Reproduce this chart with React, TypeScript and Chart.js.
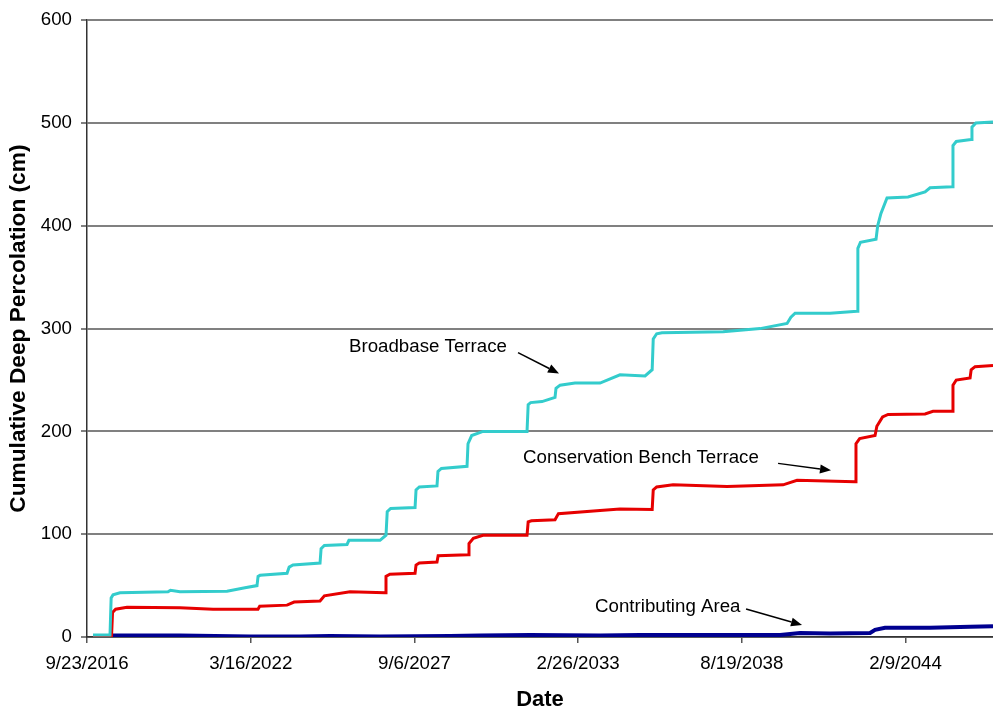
import React, { useEffect, useRef } from "react";
import { Chart, registerables } from "chart.js";

Chart.register(...registerables);

// ---- Axis definitions ----
const START_DATE_UTC = Date.UTC(2016, 8, 23); // day 0 = 9/23/2016
const X_MAX_DAYS = 11069;
const X_TICK_DAYS = [0, 2000, 4000, 6000, 8000, 10000];
const Y_TICKS = [0, 100, 200, 300, 400, 500, 600];

// ---- Series data (days since 9/23/2016, cumulative cm) ----
const BROADBASE_DAYS = [
  73, 281, 295, 318, 403, 990, 1020, 1136, 1711, 1930, 2077, 2090, 2114, 2444, 2470,
  2517, 2847, 2860, 2900, 3177, 3200, 3580, 3653, 3668, 3710, 4008, 4020, 4060, 4276,
  4288, 4330, 4643, 4655, 4700, 4838, 5376, 5390, 5420, 5559, 5718, 5730, 5780, 5962,
  6268, 6512, 6818, 6905, 6918, 6960, 7025, 7771, 8223, 8553, 8600, 8651, 9078, 9408,
  9418, 9450, 9640, 9660, 9700, 9774, 10031, 10239, 10300, 10569, 10580, 10620, 10801,
  10812, 10860, 11069,
];
const BROADBASE_CM = [
  2, 2, 38, 41, 43, 44, 45.5, 44, 44.5, 48, 50, 59, 60, 62, 68,
  70, 72, 86, 89, 90, 94, 94, 99, 122, 125, 126, 143, 146, 147,
  161, 164, 166, 188, 196, 200, 200, 226, 228, 229, 233, 242, 245, 247,
  247, 255, 254, 260, 290, 295, 296, 297, 300, 305, 311, 315, 315, 317,
  378, 384, 387, 400, 412, 427, 428, 433, 437, 438, 478, 482, 484,
  496, 500, 501,
];

const BENCH_DAYS = [
  73, 300, 312, 350, 489, 1136, 1540, 2089, 2110, 2444, 2530, 2847, 2900, 3213, 3641,
  3653, 3700, 4008, 4020, 4060, 4276, 4290, 4655, 4667, 4720, 4838, 5376, 5390, 5430,
  5718, 5760, 6268, 6512, 6905, 6918, 6960, 7160, 7820, 8504, 8675, 9383, 9395, 9440,
  9628, 9650, 9720, 9787, 10239, 10336, 10569, 10580, 10620, 10789, 10802, 10850, 11069,
];
const BENCH_CM = [
  1, 1, 24, 27, 29, 28.5, 27, 27, 30, 31, 34, 35, 40, 44, 43,
  59, 61, 62, 70, 72, 73, 79, 80, 91, 96, 99, 99, 112, 113,
  114, 120, 123, 124.5, 124, 143, 146, 148, 146.5, 148, 152.5, 151, 188, 193,
  196, 205, 214, 216.5, 217, 219.5, 219.5, 245, 250, 252, 260, 263, 264,
];

const CONTRIB_DAYS = [
  281, 1136, 1992, 2602, 2969, 3580, 4435, 4802, 5413, 6268, 6757, 7490, 8468, 8712,
  9078, 9567, 9628, 9750, 10300, 10789, 11069,
];
const CONTRIB_CM = [
  1.5, 1.5, 0.5, 0.5, 1, 0.5, 1, 1.5, 2, 1.5, 2, 2, 2, 4,
  3.5, 4, 7, 9, 9, 10, 10.5,
];

// ---- Annotations (data coordinates) ----
const NOTE_TEXTS = ["Broadbase Terrace", "Conservation Bench Terrace", "Contributing Area"];
const NOTE_DAYS = [3201, 5327, 6207];
const NOTE_CM = [282.5, 173.8, 29.1];
const ARROW_FROM_DAYS = [5266, 8443, 8052];
const ARROW_FROM_CM = [276.7, 168.9, 27.2];
const ARROW_TO_DAYS = [5767, 9090, 8736];
const ARROW_TO_CM = [256.3, 162.1, 11.7];

const FONT_FAMILY = '"Liberation Sans", Arial, Helvetica, sans-serif';

function formatDay(v: number): string {
  const d = new Date(START_DATE_UTC + v * 86400000);
  return `${d.getUTCMonth() + 1}/${d.getUTCDate()}/${d.getUTCFullYear()}`;
}

function toPoints(xs: number[], ys: number[]) {
  return xs.map((x, i) => ({ x, y: ys[i] }));
}

const annotationPlugin = {
  id: "textArrows",
  afterDatasetsDraw(chart: any) {
    const { ctx, scales } = chart;
    const xs = scales.x;
    const ys = scales.y;
    ctx.save();
    ctx.font = `18.7px ${FONT_FAMILY}`;
    ctx.fillStyle = "#000";
    ctx.strokeStyle = "#000";
    ctx.textAlign = "left";
    ctx.textBaseline = "middle";
    for (let i = 0; i < NOTE_TEXTS.length; i++) {
      ctx.fillText(NOTE_TEXTS[i], xs.getPixelForValue(NOTE_DAYS[i]), ys.getPixelForValue(NOTE_CM[i]));
      const x1 = xs.getPixelForValue(ARROW_FROM_DAYS[i]);
      const y1 = ys.getPixelForValue(ARROW_FROM_CM[i]);
      const x2 = xs.getPixelForValue(ARROW_TO_DAYS[i]);
      const y2 = ys.getPixelForValue(ARROW_TO_CM[i]);
      const ang = Math.atan2(y2 - y1, x2 - x1);
      const headLen = 11;
      const headHalf = 4.5;
      const bx = x2 - headLen * Math.cos(ang);
      const by = y2 - headLen * Math.sin(ang);
      ctx.lineWidth = 1.5;
      ctx.beginPath();
      ctx.moveTo(x1, y1);
      ctx.lineTo(bx, by);
      ctx.stroke();
      ctx.beginPath();
      ctx.moveTo(x2, y2);
      ctx.lineTo(bx + headHalf * Math.sin(ang), by - headHalf * Math.cos(ang));
      ctx.lineTo(bx - headHalf * Math.sin(ang), by + headHalf * Math.cos(ang));
      ctx.closePath();
      ctx.fill();
    }
    ctx.restore();
  },
};

export default function App() {
  const canvasRef = useRef<HTMLCanvasElement | null>(null);

  useEffect(() => {
    document.body.style.margin = "0";
    const canvas = canvasRef.current;
    if (!canvas) return;
    const tickFont = { family: FONT_FAMILY, size: 18.7 };
    const xTitleFont = { family: FONT_FAMILY, size: 22, weight: "bold" as const };
    const yTitleFont = { family: FONT_FAMILY, size: 22.7, weight: "bold" as const };
    const chart = new Chart(canvas, {
      type: "line",
      data: {
        datasets: [
          {
            label: "Broadbase Terrace",
            data: toPoints(BROADBASE_DAYS, BROADBASE_CM),
            borderColor: "#33cccc",
            borderWidth: 3,
            pointRadius: 0,
            tension: 0,
            fill: false,
          },
          {
            label: "Conservation Bench Terrace",
            data: toPoints(BENCH_DAYS, BENCH_CM),
            borderColor: "#e60000",
            borderWidth: 3,
            pointRadius: 0,
            tension: 0,
            fill: false,
          },
          {
            label: "Contributing Area",
            data: toPoints(CONTRIB_DAYS, CONTRIB_CM),
            borderColor: "#000090",
            borderWidth: 4,
            pointRadius: 0,
            tension: 0,
            fill: false,
          },
        ],
      },
      options: {
        animation: false,
        responsive: false,
        devicePixelRatio: 1,
        layout: { padding: { top: 19, right: 0, bottom: 0, left: 0 } },
        plugins: {
          legend: { display: false },
          tooltip: { enabled: false },
        },
        scales: {
          x: {
            type: "linear",
            min: 0,
            max: X_MAX_DAYS,
            afterBuildTicks: (s: any) => {
              s.ticks = X_TICK_DAYS.map((v) => ({ value: v }));
            },
            afterFit: (s: any) => {
              s.height = 76;
            },
            ticks: {
              callback: (v: any) => formatDay(Number(v)),
              color: "#000",
              font: tickFont,
              padding: 10,
              maxRotation: 0,
              autoSkip: false,
            },
            grid: {
              drawOnChartArea: false,
              drawTicks: true,
              tickLength: 6,
              color: "#555",
              lineWidth: 1.5,
            },
            border: { display: true, color: "#333", width: 1.5 },
            title: {
              display: true,
              text: "Date",
              color: "#000",
              font: xTitleFont,
              padding: { top: 0, bottom: 0 },
            },
          },
          y: {
            type: "linear",
            min: 0,
            max: 600,
            afterBuildTicks: (s: any) => {
              s.ticks = Y_TICKS.map((v) => ({ value: v }));
            },
            afterFit: (s: any) => {
              s.width = 87;
            },
            ticks: {
              color: "#000",
              font: tickFont,
              padding: 9,
            },
            grid: {
              color: "#808080",
              lineWidth: 2,
              drawTicks: true,
              tickLength: 6,
            },
            border: { display: true, color: "#333", width: 1.5 },
            title: {
              display: true,
              text: "Cumulative Deep Percolation (cm)",
              color: "#000",
              font: yTitleFont,
              padding: { top: 5, bottom: 0 },
            },
          },
        },
      },
      plugins: [annotationPlugin],
    } as any);
    return () => {
      chart.destroy();
    };
  }, []);

  return (
    <div style={{ position: "absolute", left: 0, top: 0, width: 993, height: 713, background: "#fff" }}>
      <canvas ref={canvasRef} width={993} height={713} style={{ display: "block", width: 993, height: 713 }} />
    </div>
  );
}
